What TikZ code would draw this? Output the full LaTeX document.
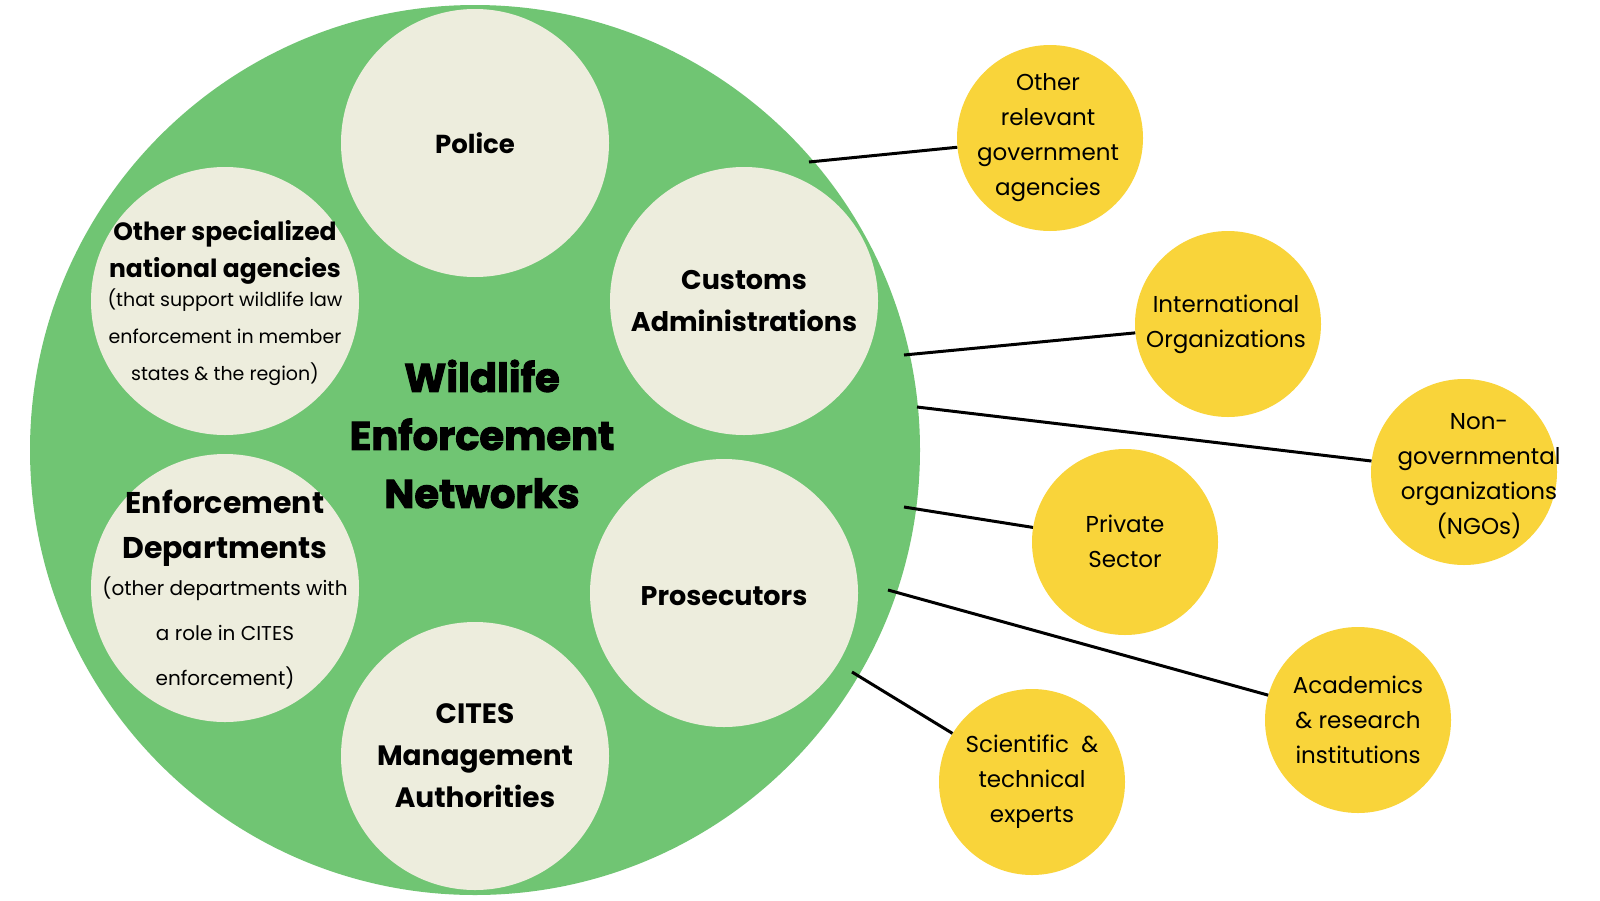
\documentclass[tikz,border=0pt]{standalone}
\usepackage{fontspec}
\setmainfont{Poppins}
\newfontfamily\heavy[FakeBold=2.5]{Poppins Bold}
\begin{document}
\begin{tikzpicture}[x=1pt,y=-1pt,
  inner/.style={circle,fill=inc,minimum size=268pt,inner sep=0pt},
  outer/.style={circle,fill=yel,minimum size=186pt,inner sep=0pt},
  itxt/.style={align=center,inner sep=0pt,font=\fontsize{26}{38}\selectfont\bfseries},
  otxt/.style={align=center,inner sep=0pt,font=\fontsize{23}{35}\selectfont},
  con/.style={line width=3pt,black}]
\definecolor{grn}{HTML}{70C573}
\definecolor{inc}{HTML}{EDEDDD}
\definecolor{yel}{HTML}{F9D43A}
\useasboundingbox (0,0) rectangle (1600,900);
\fill[white] (0,0) rectangle (1600,900);
\node[circle,fill=grn,minimum size=890pt,inner sep=0pt] (big) at (475,450) {};
\node[inner] (pol) at (475,143) {};
\node[inner] (cus) at (744,301) {};
\node[inner] (oth) at (225,301) {};
\node[inner] (enf) at (225,588) {};
\node[inner] (pro) at (724,593) {};
\node[inner] (cit) at (475,756) {};
\node[itxt] (polt) at (475,143) {Police};
\node[itxt,font=\fontsize{27}{42}\selectfont\bfseries] (cust) at (744,301) {Customs\\Administrations};
\node[itxt,font=\fontsize{25}{37}\selectfont\bfseries] (otht) at (225,303) {Other specialized\\national agencies\\[-8pt]{\fontsize{19}{28}\selectfont\mdseries(that support wildlife law}\\{\fontsize{19}{28}\selectfont\mdseries enforcement in member}\\{\fontsize{19}{28}\selectfont\mdseries states \& the region)}};
\node[itxt,font=\fontsize{30}{45}\selectfont\bfseries] (enft) at (225,590) {Enforcement\\Departments\\[-8pt]{\fontsize{20}{29}\selectfont\mdseries(other departments with}\\{\fontsize{20}{29}\selectfont\mdseries a role in CITES}\\{\fontsize{20}{29}\selectfont\mdseries enforcement)}};
\node[itxt,font=\fontsize{27}{42}\selectfont\bfseries] (prot) at (724,596) {Prosecutors};
\node[itxt,font=\fontsize{28}{42}\selectfont\bfseries] (citt) at (475,756) {CITES\\Management\\Authorities};
\node[align=center,font=\fontsize{40}{58}\selectfont\heavy] (title) at (482,434) {Wildlife\\Enforcement\\Networks};
\node[outer] (o1) at (1050,138) {};
\node[outer] (o2) at (1228,324) {};
\node[outer] (o3) at (1464,472) {};
\node[outer] (o4) at (1125,542) {};
\node[outer] (o5) at (1358,720) {};
\node[outer] (o6) at (1032,782) {};
\node[otxt] (o1t) at (1048,138) {Other\\relevant\\government\\agencies};
\node[otxt] (o2t) at (1226,324) {International\\Organizations};
\node[otxt] (o3t) at (1479,476) {Non-\\governmental\\organizations\\(NGOs)};
\node[otxt] (o4t) at (1125,541) {Private\\Sector};
\node[otxt] (o5t) at (1358,720) {Academics\\\& research\\institutions};
\node[otxt] (o6t) at (1032,782) {Scientific \ \&\\technical\\experts};
\coordinate (b1) at (809,162);
\coordinate (b2) at (904,355);
\coordinate (b3) at (917,407);
\coordinate (b4) at (904,507);
\coordinate (b5) at (888,590);
\coordinate (b6) at (852,672);
\draw[con] (b1) -- (o1);
\draw[con] (b2) -- (o2);
\draw[con] (b3) -- (o3);
\draw[con] (b4) -- (o4);
\draw[con] (b5) -- (o5);
\draw[con] (b6) -- (o6);
\end{tikzpicture}
\end{document}
